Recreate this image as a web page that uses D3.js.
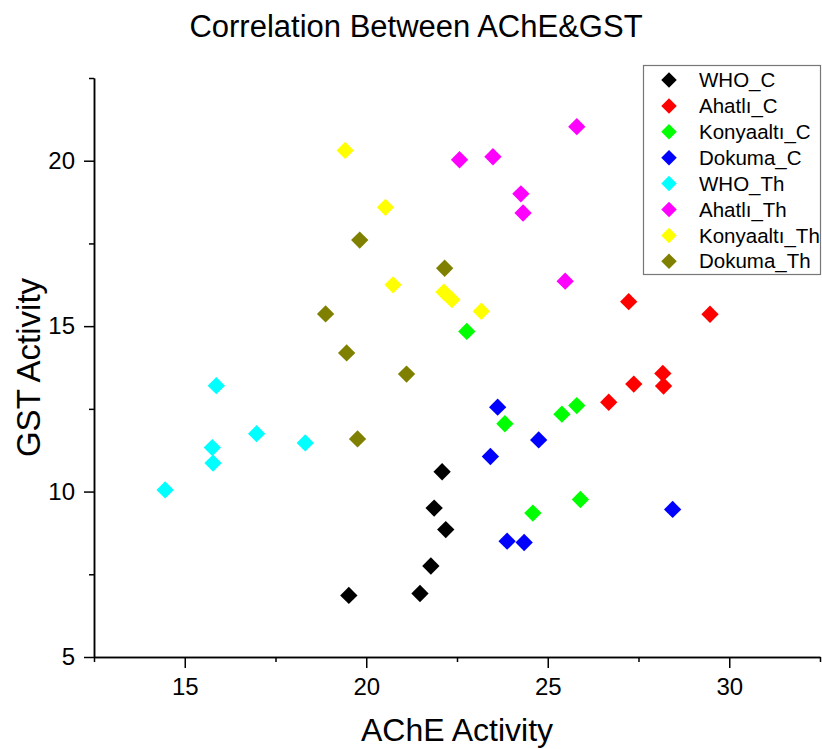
<!DOCTYPE html>
<meta charset="utf-8">
<title>Correlation Between AChE&amp;GST</title>
<style>
*{
  margin: 0;
  padding: 0;
}
body{
  font-family: Arial, "Liberation Sans", sans-serif;
  background: #fff;
}
.axis text{
  font-family: Arial, "Liberation Sans", sans-serif;
  font-size: 24px;
  fill: #000;
}
.axis path, .axis line{
  stroke: #000;
  stroke-width: 1.5px;
}
</style>
<body>
<script src="https://d3js.org/d3.v7.min.js"></script>
<div id="chart"></div>
<script>

var width = 822,
    height = 749;

// left edge, right edge, top, bottom of the plot frame
var margin = {left: 94, right: 2, top: 78, bottom: 92};

var groups = ["WHO_C", "Ahatlı_C", "Konyaaltı_C", "Dokuma_C",
              "WHO_Th", "Ahatlı_Th", "Konyaaltı_Th", "Dokuma_Th"];
var groupColors = ["#000000", "#ff0000", "#00ff00", "#0000ff",
                   "#00ffff", "#ff00ff", "#ffff00", "#808000"];

// [AChE, GST] per group
var whoC = [[19.52, 6.86], [21.48, 6.92], [21.78, 7.75], [22.19, 8.85], [21.87, 9.50], [22.09, 10.60]];
var ahatliC = [[26.68, 12.70], [27.37, 13.25], [28.17, 13.57], [28.19, 13.19], [27.23, 15.74], [29.47, 15.36]];
var konyaaltiC = [[23.82, 12.05], [25.39, 12.34], [25.80, 12.60], [24.59, 9.35], [25.90, 9.76], [22.77, 14.84]];
var dokumaC = [[23.62, 12.55], [23.42, 11.06], [24.75, 11.56], [23.88, 8.50], [24.35, 8.46], [28.44, 9.46]];
var whoTh = [[15.87, 13.20], [16.98, 11.75], [18.32, 11.47], [15.76, 11.33], [15.78, 10.86], [14.46, 10.05]];
var ahatliTh = [[25.80, 21.03], [22.57, 20.03], [23.49, 20.12], [24.26, 19.00], [24.32, 18.42], [25.48, 16.36]];
var konyaaltiTh = [[19.42, 20.31], [20.53, 18.59], [20.74, 16.25], [22.14, 16.03], [22.36, 15.80], [23.17, 15.45]];
var dokumaTh = [[19.82, 17.60], [22.16, 16.75], [18.88, 15.37], [19.46, 14.19], [21.11, 13.55], [19.76, 11.59]];

var series = [whoC, ahatliC, konyaaltiC, dokumaC, whoTh, ahatliTh, konyaaltiTh, dokumaTh];

var xMajor = [15, 20, 25, 30];
var xMinor = [12.5, 17.5, 22.5, 27.5, 32.5];
var yMajor = [5, 10, 15, 20];
var yMinor = [7.5, 12.5, 17.5, 22.5];

var svg = d3.select("#chart").append("svg")
    .attr("width", width)
    .attr("height", height);

var x = d3.scaleLinear()
    .domain([12.5, 32.5])
    .range([margin.left, width - margin.right]);

var y = d3.scaleLinear()
    .domain([5, 22.5])
    .range([height - margin.bottom, margin.top]);

/* Axes */
svg.append("g")
  .attr("class", "axis")
  .attr("transform", "translate(0," + y(5) + ")")
  .call(d3.axisBottom(x).tickValues(xMinor).tickSize(5).tickFormat("").tickSizeOuter(0));

svg.append("g")
  .attr("class", "axis")
  .attr("transform", "translate(0," + y(5) + ")")
  .call(d3.axisBottom(x).tickValues(xMajor).tickSize(11).tickPadding(10).tickSizeOuter(0));

svg.append("g")
  .attr("class", "axis")
  .attr("transform", "translate(" + x(12.5) + ",0)")
  .call(d3.axisLeft(y).tickValues(yMinor).tickSize(5).tickFormat("").tickSizeOuter(0));

svg.append("g")
  .attr("class", "axis")
  .attr("transform", "translate(" + x(12.5) + ",0)")
  .call(d3.axisLeft(y).tickValues(yMajor).tickSize(10).tickPadding(9).tickSizeOuter(0));

/* Titles */
svg.append("text")
  .attr("x", 416)
  .attr("y", 37)
  .attr("text-anchor", "middle")
  .style("font-size", "31px")
  .text("Correlation Between AChE&GST");

svg.append("text")
  .attr("x", (x(12.5) + x(32.5)) / 2)
  .attr("y", 741)
  .attr("text-anchor", "middle")
  .style("font-size", "32px")
  .text("AChE Activity");

svg.append("text")
  .attr("transform", "translate(40," + (y(5) + y(22.5)) / 2 + ") rotate(-90)")
  .attr("text-anchor", "middle")
  .style("font-size", "33px")
  .text("GST Activity");

/* Points */
var diamond = d3.symbol().type(d3.symbolSquare).size(150);

series.forEach(function(pts, i){
  svg.append("g")
    .selectAll("path")
    .data(pts)
    .enter()
    .append("path")
    .attr("d", diamond)
    .attr("transform", function(d){ return "translate(" + x(d[0]) + "," + y(d[1]) + ") rotate(45)"; })
    .attr("fill", groupColors[i]);
});

/* Legend */
var legend = svg.append("g")
  .attr("transform", "translate(643,65)");

legend.append("rect")
  .attr("x", 0.5)
  .attr("y", 0.5)
  .attr("width", 177)
  .attr("height", 209)
  .attr("fill", "#fff")
  .attr("stroke", "#777")
  .attr("stroke-width", 1.2);

var rows = legend.selectAll(".row")
  .data(groups)
  .enter()
  .append("g")
  .attr("class", "row")
  .attr("transform", function(d, i){ return "translate(0," + (15 + i * 25.9) + ")"; });

rows.append("path")
  .attr("d", d3.symbol().type(d3.symbolSquare).size(120))
  .attr("transform", "translate(26,0) rotate(45)")
  .attr("fill", function(d, i){ return groupColors[i]; });

rows.append("text")
  .attr("x", 56)
  .attr("dy", "0.35em")
  .style("font-size", "20.5px")
  .text(function(d){ return d; });

</script>
</body>
</html>
